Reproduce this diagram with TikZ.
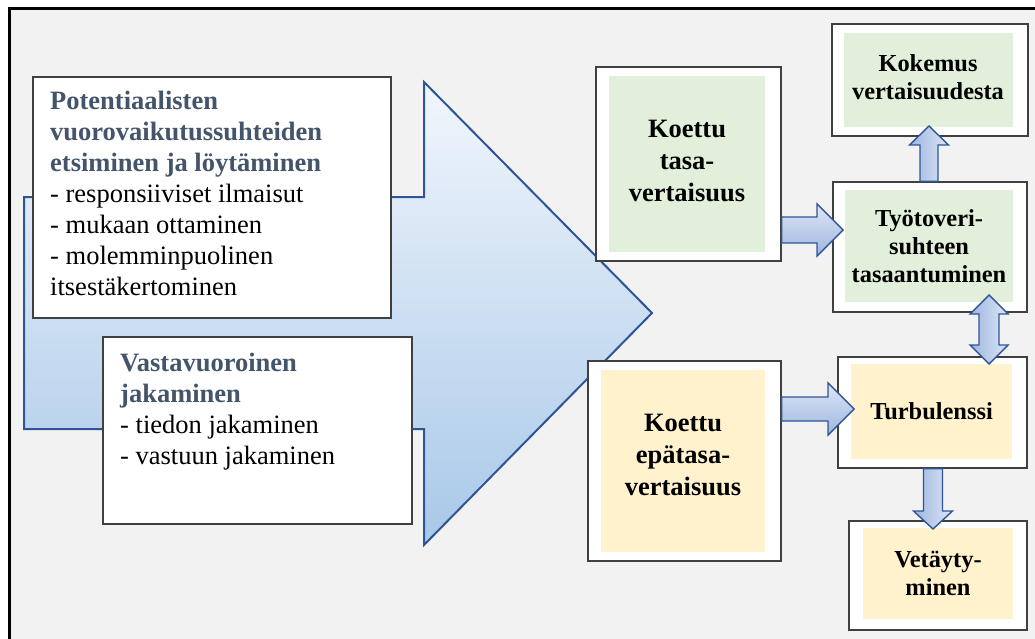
\documentclass[tikz,border=0pt]{standalone}
\usepackage{fontspec}
\setmainfont{Liberation Serif}
\usetikzlibrary{calc}
\definecolor{bggray}{HTML}{F2F2F2}
\definecolor{leaf}{HTML}{E2EFDA}
\definecolor{peach}{HTML}{FFF2CC}
\definecolor{titleblue}{HTML}{44546A}
\definecolor{arrowblue}{HTML}{2F5597}
\definecolor{boxgray}{HTML}{404040}
\definecolor{bigtop}{HTML}{F1F6FC}
\definecolor{bigbot}{HTML}{A8C8E8}
\definecolor{smlight}{HTML}{DDE6F5}
\definecolor{smdark}{HTML}{9EB6E0}
\newcommand{\blockarr}[5]{%
 \path[blk] let \p3=($(#2)!#5!(#1)$) in
 ($(#1)!#3!90:(#2)$) -- ($(\p3)!#3!-90:(#1)$) -- ($(\p3)!#4!-90:(#1)$) -- (#2) --
 ($(\p3)!#4!90:(#1)$) -- ($(\p3)!#3!90:(#1)$) -- ($(#1)!#3!-90:(#2)$) -- cycle;}
\newcommand{\dblarr}[5]{%
 \path[blk] let \p3=($(#1)!#5!(#2)$), \p4=($(#2)!#5!(#1)$) in
 (#1) -- ($(\p3)!#4!90:(#2)$) -- ($(\p3)!#3!90:(#2)$) -- ($(\p4)!#3!-90:(#1)$) --
 ($(\p4)!#4!-90:(#1)$) -- (#2) -- ($(\p4)!#4!90:(#1)$) -- ($(\p4)!#3!90:(#1)$) --
 ($(\p3)!#3!-90:(#2)$) -- ($(\p3)!#4!-90:(#2)$) -- cycle;}
\begin{document}
\begin{tikzpicture}[x=1pt,y=-1pt,
  outerbox/.style={draw=boxgray, line width=1.3pt, fill=white, inner sep=0pt},
  innerbox/.style={inner sep=0pt, align=center},
  rtext/.style={font=\fontsize{24.4}{28}\selectfont\bfseries},
  ltext/.style={font=\fontsize{26.5}{32}\selectfont\bfseries},
  bodytext/.style={font=\fontsize{26.5}{31}\selectfont, align=left, inner sep=0pt, anchor=north west},
  blk/.style={draw=arrowblue, line width=1.4pt, line join=miter, top color=smlight, bottom color=smdark}
]
\useasboundingbox (0,0) rectangle (1035,639);
\clip (0,0) rectangle (1035,639);
\fill[white] (0,0) rectangle (1035,639);
\draw[fill=bggray, line width=3pt] (9,9) rectangle (1060,670);

% big arrow
\path[draw=arrowblue, line width=2pt, line join=miter, top color=bigtop, bottom color=bigbot]
  (24,197) -- (424,197) -- (424,82) -- (652,313) -- (424,545) -- (424,429) -- (24,429) -- cycle;

% left text boxes
\node[outerbox, minimum width=358pt, minimum height=241pt] (b1) at (212,197.5) {};
\node[bodytext] (t1) at (50,91) {{\color{titleblue}\bfseries Potentiaalisten}\\
{\color{titleblue}\bfseries vuorovaikutussuhteiden}\\
{\color{titleblue}\bfseries etsiminen ja löytäminen}\\
- responsiiviset ilmaisut\\
- mukaan ottaminen\\
- molemminpuolinen\\
itsestäkertominen};
\node[outerbox, minimum width=309pt, minimum height=187pt] (b2) at (257.5,430.5) {};
\node[bodytext] (t2) at (120,353) {{\color{titleblue}\bfseries Vastavuoroinen}\\
{\color{titleblue}\bfseries jakaminen}\\
- tiedon jakaminen\\
- vastuun jakaminen};

% right boxes
\node[outerbox, minimum width=185pt, minimum height=194pt] (kt) at (688.5,164) {};
\node[innerbox, ltext, fill=leaf, minimum width=156pt, minimum height=176pt] (kti) at (687,164) {};
\node[ltext, align=center, inner sep=0pt] (ktt) at (687,161) {Koettu\\tasa-\\vertaisuus};

\node[outerbox, minimum width=196pt, minimum height=112pt] (ko) at (930,80) {};
\node[innerbox, rtext, fill=leaf, minimum width=169pt, minimum height=94pt] (koi) at (928.5,80) {};
\node[rtext, align=center, inner sep=0pt] (kot) at (928,77) {Kokemus\\vertaisuudesta};

\node[outerbox, minimum width=194pt, minimum height=130pt] (tt) at (930,247) {};
\node[innerbox, rtext, fill=leaf, minimum width=168pt, minimum height=112pt] (tti) at (929,246) {Työtoveri-\\suhteen\\tasaantuminen};

\node[outerbox, minimum width=189pt, minimum height=111pt] (tu) at (932.5,412.5) {};
\node[innerbox, rtext, fill=peach, minimum width=161pt, minimum height=95pt] (tui) at (931.5,411.5) {Turbulenssi};

\node[outerbox, minimum width=193pt, minimum height=200pt] (ke) at (684.5,461) {};
\node[innerbox, ltext, fill=peach, minimum width=164pt, minimum height=182pt] (kei) at (683,461) {};
\node[ltext, align=center, inner sep=0pt] (ket) at (683,455) {Koettu\\epätasa-\\vertaisuus};

\node[outerbox, minimum width=178pt, minimum height=109pt] (ve) at (938,575.5) {};
\node[innerbox, rtext, fill=peach, minimum width=150pt, minimum height=91pt] (vei) at (938,573) {Vetäyty-\\minen};

% block arrows
\coordinate (a1s) at (kt.east |- 0,230);
\coordinate (a1e) at (843,230);
\blockarr{a1s}{a1e}{13pt}{26pt}{26pt}
\coordinate (a2s) at (ke.east |- 0,409);
\coordinate (a2e) at (854,409);
\blockarr{a2s}{a2e}{12pt}{26pt}{26pt}
\tikzset{blk/.style={draw=arrowblue, line width=1.4pt, line join=miter, left color=smdark, right color=smlight}}
\coordinate (a3s) at (929,0 |- tt.north);
\coordinate (a3e) at (929,126);
\blockarr{a3s}{a3e}{9pt}{19.5pt}{19pt}
\coordinate (a4s) at (933,0 |- tu.south);
\coordinate (a4e) at (933,529);
\blockarr{a4s}{a4e}{9.5pt}{19.5pt}{18pt}
\coordinate (a5s) at (989,295);
\coordinate (a5e) at (989,364);
\dblarr{a5s}{a5e}{10pt}{19pt}{19pt}
\end{tikzpicture}
\end{document}
